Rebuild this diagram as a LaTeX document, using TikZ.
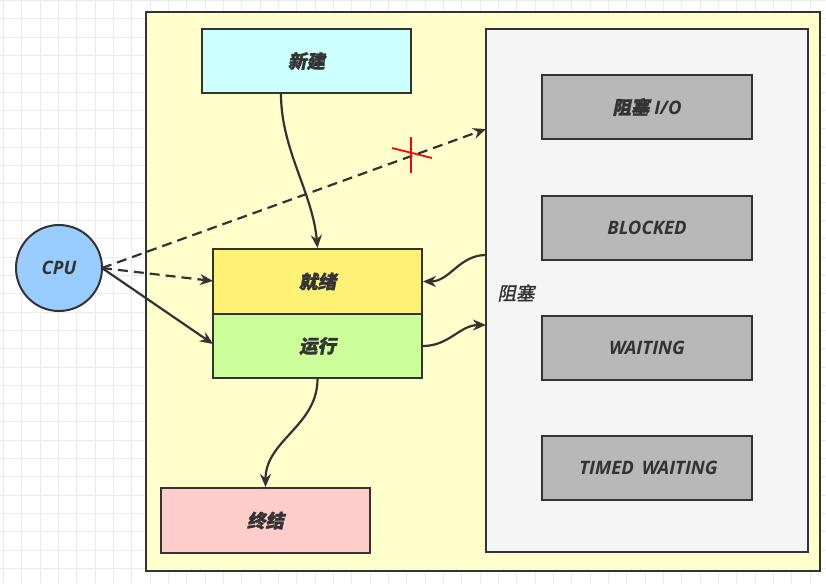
\documentclass[tikz,border=0pt]{standalone}
\usepackage{fontspec}
\setmainfont{Open Sans}
\newfontfamily\cjk{Noto Sans CJK SC}[FakeSlant=0.2,FakeBold=1.5]
\usetikzlibrary{arrows.meta}
\definecolor{ink}{HTML}{333333}
\definecolor{gridc}{HTML}{EBEBEB}
\definecolor{outerc}{HTML}{FFFFCC}
\definecolor{newc}{HTML}{CCFFFF}
\definecolor{contc}{HTML}{F5F5F5}
\definecolor{grayc}{HTML}{B8B8B8}
\definecolor{readyc}{HTML}{FFF176}
\definecolor{runc}{HTML}{CCFF99}
\definecolor{termc}{HTML}{FFCCCC}
\definecolor{cpuc}{HTML}{99CCFF}
\tikzset{
  box/.style={draw=ink, line width=2pt, minimum width=209pt, minimum height=64pt, inner sep=0pt, text=ink,
    font=\fontsize{18.5}{22}\selectfont\bfseries\itshape},
  con/.style={draw=ink, line width=2.2pt, -{Stealth[length=13pt,width=11pt]}},
  dsh/.style={dash pattern=on 10pt off 6pt},
}
\begin{document}
\begin{tikzpicture}[x=1pt,y=-1pt]
\useasboundingbox (0,0) rectangle (826,584);
\fill[white] (0,0) rectangle (826,584);
\foreach \i in {0,...,45} {
  \draw[gridc, line width=0.8pt] (3.5+18.33*\i,0) -- (3.5+18.33*\i,584);
  \draw[gridc, line width=0.8pt] (0,0.3+18.33*\i) -- (826,0.3+18.33*\i);
}
\node[draw=ink, fill=outerc, line width=2.2pt, minimum width=674pt, minimum height=559pt, inner sep=0pt] (outer) at (483,291.5) {};
\node[box, fill=contc, minimum width=322pt, minimum height=523pt] (cont) at (647,290.5) {};
\node[text=ink, font=\fontsize{18.5}{22}\selectfont\cjk] (blklbl) at (516,293) {阻塞};
\node[box, fill=newc] (new) at (306.5,61) {{\cjk 新建}};
\node[box, fill=grayc, minimum width=210pt] (bio) at (647,107) {{\cjk 阻塞} I/O};
\node[box, fill=grayc, minimum width=210pt] (blocked) at (647,227.5) {BLOCKED};
\node[box, fill=grayc, minimum width=210pt] (waiting) at (647,348) {WAITING};
\node[box, fill=grayc, minimum width=210pt] (timed) at (647,467.5) {\hspace{3pt}TIMED\, WAITING};
\node[box, fill=readyc, minimum height=65pt] (ready) at (317.5,281.5) {{\cjk 就绪}};
\node[box, fill=runc] (run) at (317.5,346) {{\cjk 运行}};
\node[box, fill=termc, minimum height=65pt] (term) at (265.5,520.5) {{\cjk 终结}};
\node[circle, draw=ink, fill=cpuc, line width=2pt, minimum size=86pt, inner sep=0pt, text=ink,
  font=\fontsize{18.5}{22}\selectfont\bfseries\itshape] (cpu) at (59,268) {CPU};
\coordinate (cpuo) at (102,268);
\coordinate (blkin) at (486,129);
\coordinate (blkout) at (486,255);
\coordinate (blkback) at (486,325);
\draw[con, dsh] (cpuo) -- (blkin);
\draw[con, dsh] (cpuo) -- (213,281);
\draw[con] (cpuo) -- (213,344);
\draw[con] (new.south -| 281,0) to[out=-90,in=95,looseness=0.9] (ready.north);
\draw[con] (blkout) to[out=180,in=0] (ready.east);
\draw[con] (run.east) to[out=0,in=180] (blkback);
\draw[con] (run.south) to[out=-90,in=90] (term.north);
\draw[red, line width=1.8pt] (411,137) -- (411,173);
\draw[red, line width=1.8pt] (392,148) -- (432,158);
\end{tikzpicture}
\end{document}
